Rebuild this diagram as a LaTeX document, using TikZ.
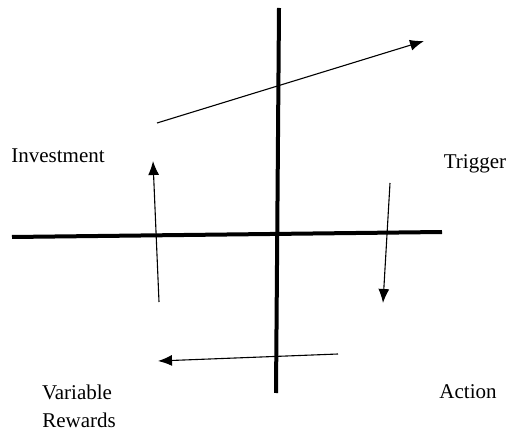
\documentclass[tikz,border=0pt]{standalone}
\usepackage{fontspec}
\setmainfont{Liberation Serif}
\usetikzlibrary{arrows.meta}
\begin{document}
\begin{tikzpicture}[x=1pt,y=-1pt,
  axis/.style={line width=4pt},
  arr/.style={line width=1.1pt,-{Latex[length=14pt,width=11pt]}},
  lbl/.style={font=\fontsize{21}{25}\selectfont, inner sep=0pt}]
\useasboundingbox (0,0) rectangle (508,435);
\coordinate (vt) at (279,8);
\coordinate (vb) at (276,393);
\coordinate (hl) at (12,237);
\coordinate (hr) at (442,232);
\draw[axis] (vt) -- (vb);
\draw[axis] (hl) -- (hr);
\coordinate (a1s) at (157,123);
\coordinate (a1e) at (424,41);
\coordinate (a2s) at (159,302);
\coordinate (a2e) at (153,161);
\coordinate (a3s) at (390,183);
\coordinate (a3e) at (383,303);
\coordinate (a4s) at (338,354);
\coordinate (a4e) at (158,361);
\draw[arr] (a1s) -- (a1e);
\draw[arr] (a2s) -- (a2e);
\draw[arr] (a3s) -- (a3e);
\draw[arr] (a4s) -- (a4e);
\node[lbl] (inv) at (58,156) {Investment};
\node[lbl] (trg) at (475,164) {Trigger};
\node[lbl] (var) at (77,392) {Variable};
\node[lbl] (rew) at (79,420) {Rewards};
\node[lbl] (act) at (468,392) {Action};
\end{tikzpicture}
\end{document}
